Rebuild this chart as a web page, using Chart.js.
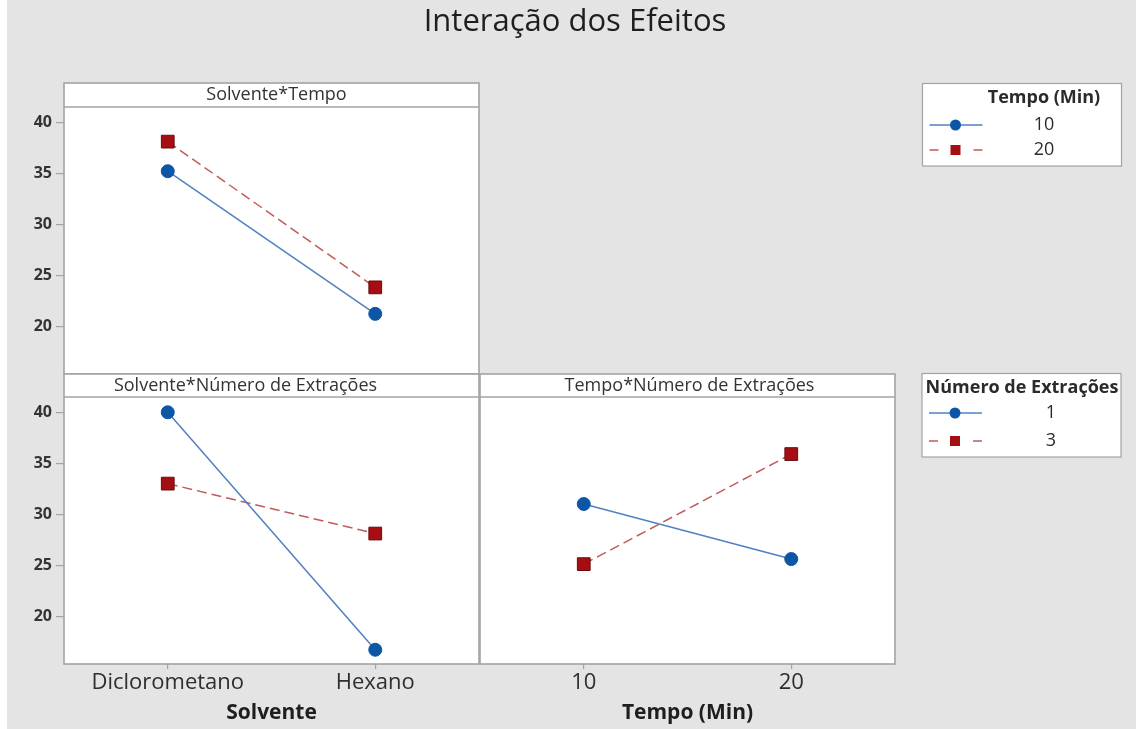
<!DOCTYPE html>
<html lang="pt">
<head>
<meta charset="utf-8">
<title>Interação dos Efeitos</title>
<script src="https://cdn.jsdelivr.net/npm/chart.js@4.4.1/dist/chart.umd.min.js"></script>
<style>
  html, body { margin: 0; padding: 0; background: #ffffff; width: 1136px; height: 729px; overflow: hidden; }
  #fundo { position: absolute; left: 7px; top: 0; width: 1129px; height: 729px; background: #e4e4e4; }
  canvas { position: absolute; }
  #grafSolvTempo { left: 0; top: 0; }
  #grafSolvExt { left: 0; top: 370px; }
  #grafTempoExt { left: 479px; top: 370px; }
</style>
</head>
<body>
<div id="fundo"></div>
<canvas id="grafSolvTempo" width="1136" height="376"></canvas>
<canvas id="grafSolvExt" width="482" height="359"></canvas>
<canvas id="grafTempoExt" width="657" height="359"></canvas>
<script>
// Níveis dos fatores
const solventes = ['Diclorometano', 'Hexano'];
const tempos = ['10', '20'];
const niveisTempo = ['10', '20'];
const niveisExtracoes = ['1', '3'];

// Médias ajustadas de cada interação
const solvTempo10 = [35.2, 21.2];
const solvTempo20 = [38.1, 23.8];
const solvExtracoes1 = [40.0, 16.7];
const solvExtracoes3 = [33.0, 28.1];
const tempoExtracoes1 = [31.0, 25.6];
const tempoExtracoes3 = [25.1, 35.9];

// Eixo vertical comum
const marcasY = [20, 25, 30, 35, 40];
const limiteYMin = 15.3;
const limiteYMax = 41.5;

const FONTE = "'Open Sans', Lato, sans-serif";
const COR_TEXTO = '#2b2b2b';
const COR_MOLDURA = '#a3a3a3';

const estiloSerie1 = {
  borderColor: '#4f80c2', borderWidth: 1.5,
  pointStyle: 'circle', pointRadius: 6.5, pointHoverRadius: 6.5,
  pointBackgroundColor: '#0c56a6', pointBorderColor: '#0c56a6', pointBorderWidth: 1
};
const estiloSerie2 = {
  borderColor: '#c25a5a', borderWidth: 1.5, borderDash: [10, 5],
  pointStyle: 'rect', pointRadius: 9, pointHoverRadius: 9,
  pointBackgroundColor: '#a50f14', pointBorderColor: '#6a0a0a', pointBorderWidth: 1
};

Chart.defaults.font.family = FONTE;
Chart.defaults.color = COR_TEXTO;

// Moldura do painel com a faixa do título
const molduraPainel = {
  id: 'molduraPainel',
  beforeDatasetsDraw(chart, args, o) {
    const { ctx, chartArea: a } = chart;
    ctx.save();
    ctx.fillStyle = '#ffffff';
    ctx.fillRect(a.left, a.top - o.faixa, a.right - a.left, a.bottom - a.top + o.faixa);
    ctx.restore();
  },
  afterDraw(chart, args, o) {
    const { ctx, chartArea: a } = chart;
    const topo = a.top - o.faixa;
    ctx.save();
    ctx.strokeStyle = COR_MOLDURA;
    ctx.lineWidth = 1.6;
    ctx.strokeRect(a.left, topo, a.right - a.left, a.bottom - topo);
    ctx.beginPath();
    ctx.moveTo(a.left, a.top);
    ctx.lineTo(a.right, a.top);
    ctx.stroke();
    ctx.fillStyle = '#333333';
    ctx.font = '18px ' + FONTE;
    ctx.textAlign = 'center';
    ctx.textBaseline = 'middle';
    ctx.fillText(o.texto, (a.left + a.right) / 2 + (o.deslocamento || 0), topo + o.faixa / 2);
    ctx.restore();
  }
};

// Título geral e quadros de legenda (coordenadas da página)
const anotacoes = {
  id: 'anotacoes',
  afterDraw(chart, args, o) {
    const ctx = chart.ctx;
    const ox = chart.canvas.offsetLeft, oy = chart.canvas.offsetTop;
    ctx.save();
    ctx.translate(-ox, -oy);
    if (o.titulo) {
      ctx.fillStyle = '#1e1e1e';
      ctx.font = '31px ' + FONTE;
      ctx.textAlign = 'center';
      ctx.textBaseline = 'middle';
      ctx.fillText(o.titulo.texto, o.titulo.x, o.titulo.y);
    }
    const L = o.legenda;
    if (L) {
      ctx.fillStyle = '#ffffff';
      ctx.fillRect(L.x, L.y, L.w, L.h);
      ctx.strokeStyle = COR_MOLDURA;
      ctx.lineWidth = 1.2;
      ctx.strokeRect(L.x, L.y, L.w, L.h);
      ctx.fillStyle = COR_TEXTO;
      ctx.font = 'bold 18px ' + FONTE;
      ctx.textAlign = 'center';
      ctx.textBaseline = 'middle';
      ctx.fillText(L.titulo, L.tituloX, L.y + 14);
      ctx.font = '18px ' + FONTE;
      L.itens.forEach((rot, i) => {
        const y = L.y + L.linha0 + i * L.passo;
        const xs = L.x + 7, xe = L.x + 60, xm = L.x + 33;
        ctx.fillStyle = COR_TEXTO;
        ctx.fillText(rot, L.rotX, y);
        if (i === 0) {
          ctx.strokeStyle = estiloSerie1.borderColor;
          ctx.lineWidth = 1.5;
          ctx.beginPath(); ctx.moveTo(xs, y); ctx.lineTo(xe, y); ctx.stroke();
          ctx.fillStyle = estiloSerie1.pointBackgroundColor;
          ctx.beginPath(); ctx.arc(xm, y, 5.5, 0, Math.PI * 2); ctx.fill();
        } else {
          ctx.strokeStyle = estiloSerie2.borderColor;
          ctx.lineWidth = 1.5;
          ctx.beginPath();
          ctx.moveTo(xs, y); ctx.lineTo(xs + 9, y);
          ctx.moveTo(xe - 9, y); ctx.lineTo(xe, y);
          ctx.stroke();
          ctx.fillStyle = estiloSerie2.pointBackgroundColor;
          ctx.fillRect(xm - 5, y - 5, 10, 10);
        }
      });
    }
    ctx.restore();
  }
};

function eixoY(visivel) {
  return {
    type: 'linear',
    display: visivel,
    min: limiteYMin,
    max: limiteYMax,
    afterBuildTicks: (s) => { s.ticks = marcasY.map(v => ({ value: v })); },
    afterFit: (s) => { s.width = visivel ? 64 : 0; s.paddingTop = 0; s.paddingBottom = 0; },
    border: { display: false },
    grid: { drawOnChartArea: false, drawTicks: true, tickLength: 8, color: COR_MOLDURA, lineWidth: 1.2 },
    ticks: { font: { size: 16, weight: 'bold' }, color: '#333333', padding: 4 }
  };
}

function eixoX(rotulos, titulo, visivel) {
  return {
    type: 'category',
    labels: rotulos,
    offset: true,
    display: visivel,
    afterFit: (s) => { s.height = visivel ? 65 : 0; s.paddingLeft = 0; s.paddingRight = 0; },
    border: { display: false },
    grid: { drawOnChartArea: false, drawTicks: true, tickLength: 5, color: COR_MOLDURA, lineWidth: 1.2 },
    ticks: { font: { size: 22 }, color: '#2e2e2e', padding: 1, maxRotation: 0, autoSkip: false },
    title: { display: !!titulo, text: titulo, font: { size: 21, weight: 'bold' }, color: '#1e1e1e', padding: { top: 0, bottom: 3 } }
  };
}

function opcoesBase(padding, eixos, plugins) {
  return {
    responsive: false,
    animation: false,
    events: [],
    layout: { padding, autoPadding: false },
    scales: eixos,
    plugins: Object.assign({ legend: { display: false }, tooltip: { enabled: false }, title: { display: false } }, plugins)
  };
}

// Solvente x Tempo
new Chart(document.getElementById('grafSolvTempo'), {
  type: 'line',
  data: {
    labels: solventes,
    datasets: [
      Object.assign({ label: niveisTempo[0], data: solvTempo10 }, estiloSerie1),
      Object.assign({ label: niveisTempo[1], data: solvTempo20 }, estiloSerie2)
    ]
  },
  options: opcoesBase(
    { top: 107, left: 0, right: 657, bottom: 2 },
    { x: eixoX(solventes, '', false), y: eixoY(true) },
    {
      molduraPainel: { faixa: 24, texto: 'Solvente*Tempo', deslocamento: 5 },
      anotacoes: {
        titulo: { texto: 'Interação dos Efeitos', x: 575, y: 22 },
        legenda: { x: 922.5, y: 83.5, w: 199, h: 82.5, titulo: 'Tempo (Min)', tituloX: 1044,
                   itens: niveisTempo, rotX: 1044, linha0: 41.5, passo: 25 }
      }
    }
  ),
  plugins: [molduraPainel, anotacoes]
});

// Solvente x Número de Extrações
new Chart(document.getElementById('grafSolvExt'), {
  type: 'line',
  data: {
    labels: solventes,
    datasets: [
      Object.assign({ label: niveisExtracoes[0], data: solvExtracoes1 }, estiloSerie1),
      Object.assign({ label: niveisExtracoes[1], data: solvExtracoes3 }, estiloSerie2)
    ]
  },
  options: opcoesBase(
    { top: 27, left: 0, right: 3, bottom: 0 },
    { x: eixoX(solventes, 'Solvente', true), y: eixoY(true) },
    { molduraPainel: { faixa: 23, texto: 'Solvente*Número de Extrações', deslocamento: -26 } }
  ),
  plugins: [molduraPainel]
});

// Tempo x Número de Extrações
new Chart(document.getElementById('grafTempoExt'), {
  type: 'line',
  data: {
    labels: tempos,
    datasets: [
      Object.assign({ label: niveisExtracoes[0], data: tempoExtracoes1 }, estiloSerie1),
      Object.assign({ label: niveisExtracoes[1], data: tempoExtracoes3 }, estiloSerie2)
    ]
  },
  options: opcoesBase(
    { top: 27, left: 1, right: 241, bottom: 0 },
    { x: eixoX(tempos, 'Tempo (Min)', true), y: eixoY(false) },
    {
      molduraPainel: { faixa: 23, texto: 'Tempo*Número de Extrações', deslocamento: 2 },
      anotacoes: {
        legenda: { x: 922, y: 373.5, w: 199, h: 83.5, titulo: 'Número de Extrações', tituloX: 1022,
                   itens: niveisExtracoes, rotX: 1051, linha0: 39.5, passo: 28 }
      }
    }
  ),
  plugins: [molduraPainel, anotacoes]
});
</script>
</body>
</html>
